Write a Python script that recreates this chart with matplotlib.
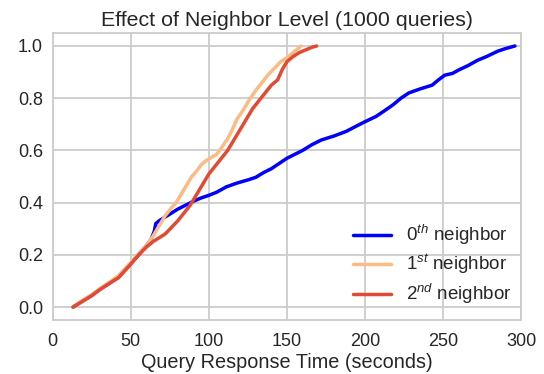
import matplotlib
matplotlib.use('Agg')
import matplotlib.pyplot as plt
import seaborn as sns

# CDF de tiempos de respuesta
x0 = [13, 18, 25, 30, 36, 42, 49, 55, 60, 63, 65, 66, 68, 72, 76, 80, 85, 90, 95, 100,
      105, 111, 118, 125, 130, 135, 140, 145, 150, 155, 160, 166, 172, 180, 188, 195,
      200, 207, 212, 218, 223, 228, 235, 243, 247, 251, 256, 260, 266, 272, 278, 285,
      290, 296]
y0 = [0.0, 0.02, 0.045, 0.068, 0.09, 0.115, 0.16, 0.2, 0.235, 0.26, 0.29, 0.32, 0.33,
      0.345, 0.36, 0.375, 0.39, 0.405, 0.418, 0.428, 0.44, 0.46, 0.475, 0.487, 0.497,
      0.515, 0.53, 0.55, 0.57, 0.585, 0.6, 0.622, 0.64, 0.655, 0.673, 0.695, 0.71, 0.73,
      0.75, 0.775, 0.8, 0.82, 0.835, 0.85, 0.87, 0.888, 0.895, 0.908, 0.925, 0.945,
      0.96, 0.98, 0.99, 1.0]

x1 = [13, 18, 25, 30, 36, 42, 49, 55, 60, 64, 68, 72, 76, 79, 82, 86, 89, 92, 95, 98,
      102, 105, 108, 112, 115, 118, 122, 126, 130, 134, 138, 142, 146, 150, 154, 157, 159]
y1 = [0.0, 0.022, 0.048, 0.07, 0.094, 0.12, 0.165, 0.205, 0.235, 0.27, 0.31, 0.35,
      0.38, 0.4, 0.43, 0.47, 0.5, 0.52, 0.545, 0.56, 0.575, 0.585, 0.61, 0.645, 0.68,
      0.72, 0.755, 0.795, 0.83, 0.86, 0.89, 0.915, 0.94, 0.955, 0.975, 0.99, 1.0]

x2 = [13, 18, 25, 30, 36, 42, 49, 55, 60, 64, 68, 72, 76, 80, 84, 88, 92, 96, 100, 104,
      108, 112, 116, 120, 124, 128, 132, 136, 140, 144, 147, 150, 154, 158, 162, 166, 169]
y2 = [0.0, 0.018, 0.044, 0.066, 0.09, 0.112, 0.158, 0.2, 0.23, 0.25, 0.265, 0.28,
      0.305, 0.33, 0.36, 0.39, 0.43, 0.47, 0.51, 0.54, 0.57, 0.6, 0.64, 0.68, 0.72,
      0.76, 0.79, 0.82, 0.85, 0.87, 0.91, 0.94, 0.96, 0.975, 0.985, 0.995, 1.0]

etiquetas = [r'$0^{th}$ neighbor', r'$1^{st}$ neighbor', r'$2^{nd}$ neighbor']
colores = ['#0000ff', '#fdbb84', '#e34a33']

sns.set_style("whitegrid")
plt.rcParams['font.family'] = ['Liberation Sans', 'DejaVu Sans']
plt.rcParams['mathtext.fontset'] = 'custom'
plt.rcParams['mathtext.rm'] = 'Liberation Sans'
plt.rcParams['mathtext.it'] = 'Liberation Sans:italic'
plt.rcParams['grid.linewidth'] = 1.3
plt.rcParams['axes.linewidth'] = 1.3

fig, ax = plt.subplots(figsize=(5.44, 3.74), dpi=100)
fig.subplots_adjust(left=0.097, right=0.958, top=0.912, bottom=0.144)

for xs, ys, lab, c in zip([x0, x1, x2], [y0, y1, y2], etiquetas, colores):
    ax.plot(xs, ys, color=c, lw=2.5, label=lab)

ax.set_xlim(0, 300)
ax.set_ylim(-0.05, 1.05)
ax.set_xticks([0, 50, 100, 150, 200, 250, 300])
ax.set_yticks([0.0, 0.2, 0.4, 0.6, 0.8, 1.0])
ax.tick_params(labelsize=13, colors='#262626')
ax.tick_params(axis='x', pad=5.5)
ax.set_xlabel("Query Response Time (seconds)", fontsize=14.3, labelpad=2.5)
ax.set_title("Effect of Neighbor Level (1000 queries)", fontsize=15.4, pad=5)
ax.legend(loc='lower right', fontsize=13.5, frameon=False, labelspacing=0.3,
          handlelength=2.0, bbox_to_anchor=(1.015, -0.01))

plt.savefig("out.png", dpi=100)
